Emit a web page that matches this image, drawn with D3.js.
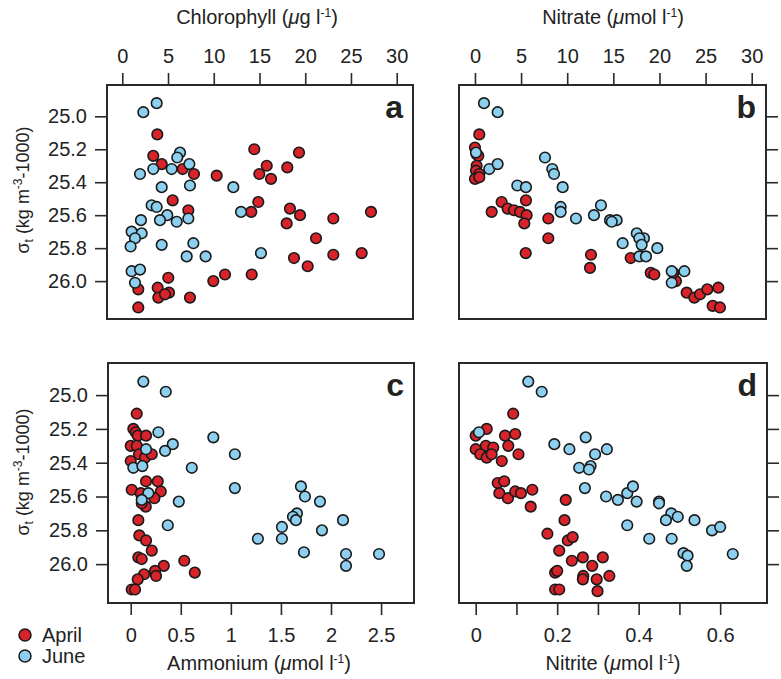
<!DOCTYPE html>
<html>
<head>
<meta charset="utf-8">
<script src="https://cdn.jsdelivr.net/npm/d3@7"></script>
<style>
  html, body { margin: 0; padding: 0; background: #fff; }
  svg { display: block; }
  text { font-family: "Liberation Sans", Arial, Helvetica, sans-serif; fill: #222; }
</style>
</head>
<body>
<svg id="chart" width="781" height="679"></svg>
<script>
// ---------------- DATA (value, sigma-t) ----------------
const months = ["April", "June"];
const sigmaTicks = [25.0, 25.2, 25.4, 25.6, 25.8, 26.0];
const chlTicks = [0, 5, 10, 15, 20, 25, 30];
const nitrateTicks = [0, 5, 10, 15, 20, 25, 30];
const ammoniumTicks = [0, 0.5, 1, 1.5, 2, 2.5];
const nitriteTicks = [0, 0.1, 0.2, 0.3, 0.4, 0.5, 0.6];
const nitriteLabels = [0, 0.2, 0.4, 0.6];

const chlApril = [[3.83,25.11],[3.39,25.24],[4.31,25.29],[6.60,25.32],[7.84,25.35],[10.32,25.36],[14.43,25.20],[19.32,25.22],[15.79,25.30],[14.98,25.35],[16.26,25.38],[18.04,25.31],[5.51,25.51],[14.87,25.52],[7.22,25.57],[14.10,25.58],[18.33,25.56],[19.43,25.60],[17.97,25.65],[23.07,25.62],[27.19,25.58],[21.18,25.74],[18.77,25.86],[20.27,25.91],[23.07,25.84],[26.17,25.83],[14.15,25.96],[11.23,25.96],[9.95,26.00],[5.03,25.98],[1.75,26.05],[3.87,26.04],[3.94,26.10],[5.11,26.07],[4.67,26.08],[7.40,26.10],[1.75,26.16]];
const chlJune = [[3.76,24.92],[2.30,24.975],[6.31,25.22],[6.01,25.25],[7.33,25.29],[3.39,25.32],[5.40,25.32],[1.94,25.35],[4.31,25.43],[7.40,25.42],[12.14,25.43],[3.21,25.54],[3.76,25.55],[4.92,25.60],[4.12,25.63],[5.95,25.64],[7.22,25.62],[12.98,25.58],[2.04,25.63],[1.02,25.70],[2.12,25.71],[1.39,25.74],[0.91,25.79],[4.31,25.78],[7.77,25.77],[7.04,25.85],[9.11,25.85],[15.16,25.83],[1.02,25.94],[1.94,25.93],[1.39,26.01]];

const nitrateApril = [[0.47,25.11],[0.0,25.19],[0.18,25.23],[0.36,25.24],[0.18,25.30],[0.11,25.33],[0.47,25.35],[0.0,25.38],[0.47,25.37],[2.89,25.52],[1.81,25.58],[3.54,25.56],[4.23,25.57],[4.88,25.58],[5.53,25.51],[5.60,25.60],[5.35,25.65],[5.50,25.83],[7.95,25.62],[7.95,25.74],[12.58,25.84],[12.47,25.92],[16.88,25.86],[19.05,25.95],[19.44,25.96],[21.79,26.00],[22.95,26.07],[23.78,26.10],[24.40,26.08],[25.19,26.05],[26.38,26.04],[25.77,26.15],[26.56,26.16],[21.50,25.95]];
const nitrateJune = [[0.98,24.92],[2.46,24.975],[0.11,25.22],[1.55,25.32],[2.46,25.29],[7.59,25.25],[8.38,25.32],[8.57,25.35],[9.51,25.43],[4.59,25.42],[5.53,25.43],[9.29,25.55],[9.29,25.58],[10.95,25.62],[12.90,25.60],[13.66,25.54],[14.64,25.63],[15.36,25.63],[14.83,25.64],[17.54,25.71],[18.32,25.74],[17.82,25.74],[18.07,25.78],[16.01,25.77],[19.77,25.80],[17.82,25.85],[18.54,25.85],[21.33,25.94],[22.70,25.94],[21.33,26.01]];

const ammoniumApril = [[0.06,25.11],[0.026,25.20],[0.05,25.22],[0.07,25.24],[0.153,25.24],[0.0,25.30],[0.06,25.30],[0.083,25.35],[0.143,25.37],[0.21,25.35],[0.0,25.39],[0.01,25.56],[0.153,25.51],[0.27,25.51],[0.30,25.57],[0.10,25.58],[0.236,25.61],[0.15,25.66],[0.11,25.64],[0.076,25.74],[0.086,25.83],[0.153,25.86],[0.21,25.92],[0.076,25.96],[0.11,25.97],[0.535,25.98],[0.33,26.01],[0.243,26.04],[0.253,26.07],[0.64,26.05],[0.133,26.06],[0.07,26.09],[0.01,26.15],[0.043,26.15]];
const ammoniumJune = [[0.126,24.92],[0.35,24.98],[0.276,25.22],[0.42,25.29],[0.343,25.33],[0.153,25.32],[0.825,25.25],[1.04,25.35],[0.61,25.43],[0.026,25.43],[0.116,25.42],[1.04,25.55],[0.176,25.58],[0.11,25.62],[0.48,25.63],[0.37,25.77],[1.70,25.54],[1.74,25.60],[1.89,25.63],[1.66,25.70],[1.62,25.72],[1.65,25.74],[1.51,25.78],[1.91,25.80],[2.12,25.74],[1.27,25.85],[1.51,25.85],[1.73,25.93],[2.15,25.94],[2.48,25.94],[2.15,26.01]];

const nitriteApril = [[0.092,25.11],[0.027,25.20],[0.0,25.24],[0.072,25.24],[0.097,25.23],[0.025,25.30],[0.043,25.31],[0.08,25.30],[0.0,25.32],[0.011,25.35],[0.027,25.37],[0.039,25.35],[0.105,25.35],[0.064,25.39],[0.054,25.52],[0.07,25.51],[0.058,25.58],[0.079,25.61],[0.097,25.57],[0.111,25.58],[0.139,25.56],[0.135,25.66],[0.221,25.62],[0.218,25.74],[0.176,25.82],[0.226,25.86],[0.238,25.84],[0.205,25.92],[0.236,25.98],[0.263,25.96],[0.312,25.96],[0.286,26.01],[0.195,26.05],[0.20,26.04],[0.264,26.07],[0.263,26.09],[0.297,26.09],[0.328,26.07],[0.195,26.15],[0.205,26.15],[0.299,26.16]];
const nitriteJune = [[0.129,24.92],[0.162,24.98],[0.008,25.22],[0.27,25.25],[0.193,25.29],[0.23,25.32],[0.322,25.32],[0.293,25.35],[0.254,25.43],[0.282,25.42],[0.278,25.44],[0.268,25.55],[0.32,25.60],[0.349,25.62],[0.372,25.58],[0.386,25.54],[0.395,25.63],[0.45,25.63],[0.45,25.64],[0.372,25.77],[0.48,25.70],[0.496,25.72],[0.467,25.74],[0.537,25.74],[0.426,25.85],[0.481,25.85],[0.58,25.80],[0.60,25.78],[0.51,25.935],[0.52,25.95],[0.631,25.94],[0.518,26.01]];

// ---------------- STYLE / LAYOUT ----------------
const colors = { April: "#d8232a", June: "#8ccfee" };
const ink = "#2a2a2a";
const fontSize = 20;
const svg = d3.select("#chart");

const panels = [
  { id: "a", x0: 107, x1: 413, y0: 85, y1: 319, xdom: [-1.67, 31.78], ticks: chlTicks, labels: chlTicks, xside: "top", yside: "left", data: [chlApril, chlJune] },
  { id: "b", x0: 459, x1: 766, y0: 85, y1: 319, xdom: [-1.73, 31.55], ticks: nitrateTicks, labels: nitrateTicks, xside: "top", yside: "right", data: [nitrateApril, nitrateJune] },
  { id: "c", x0: 108, x1: 414, y0: 363, y1: 603, xdom: [-0.227, 2.829], ticks: ammoniumTicks, labels: ammoniumTicks, xside: "bottom", yside: "left", data: [ammoniumApril, ammoniumJune] },
  { id: "d", x0: 459, x1: 767, y0: 363, y1: 603, xdom: [-0.041, 0.715], ticks: nitriteTicks, labels: nitriteLabels, xside: "bottom", yside: "right", data: [nitriteApril, nitriteJune] }
];
const ydom = [24.81, 26.23];
const fmt = d3.format("~g");

panels.forEach(p => {
  const x = d3.scaleLinear().domain(p.xdom).range([p.x0, p.x1]);
  const y = d3.scaleLinear().domain(ydom).range([p.y0, p.y1]);

  // x axis
  const xa = (p.xside === "top" ? d3.axisTop(x) : d3.axisBottom(x))
    .tickValues(p.ticks).tickSize(12)
    .tickPadding(p.xside === "top" ? 10 : 13)
    .tickFormat(d => p.labels.some(l => Math.abs(l - d) < 1e-9) ? fmt(d) : "");
  const gx = svg.append("g")
    .attr("transform", `translate(0,${p.xside === "top" ? p.y0 : p.y1})`)
    .call(xa);
  gx.select(".domain").remove();
  gx.selectAll("line").attr("stroke", ink).attr("stroke-width", 1.6);
  gx.selectAll("text").attr("font-size", fontSize).style("font-family", "Liberation Sans, Arial, sans-serif").attr("fill", "#222");

  // y axis
  const ya = (p.yside === "left" ? d3.axisLeft(y) : d3.axisRight(y))
    .tickValues(sigmaTicks).tickSize(12).tickPadding(8)
    .tickFormat(p.yside === "left" ? d3.format(".1f") : () => "");
  const gy = svg.append("g")
    .attr("transform", `translate(${p.yside === "left" ? p.x0 : p.x1},0)`)
    .call(ya);
  gy.select(".domain").remove();
  gy.selectAll("line").attr("stroke", ink).attr("stroke-width", 1.6);
  gy.selectAll("text").attr("font-size", fontSize).style("font-family", "Liberation Sans, Arial, sans-serif").attr("fill", "#222");

  // points: April first, June on top
  p.data.forEach((series, i) => {
    svg.append("g").selectAll("circle").data(series).join("circle")
      .attr("cx", d => x(d[0]))
      .attr("cy", d => y(d[1]))
      .attr("r", 5.3)
      .attr("fill", colors[months[i]])
      .attr("stroke", "#1a1a1a")
      .attr("stroke-width", 1.6);
  });

  // frame
  svg.append("rect")
    .attr("x", p.x0).attr("y", p.y0)
    .attr("width", p.x1 - p.x0).attr("height", p.y1 - p.y0)
    .attr("fill", "none").attr("stroke", ink).attr("stroke-width", 2);

  // panel letter
  svg.append("text")
    .attr("x", p.x1 - 10).attr("y", p.y0 + 33)
    .attr("text-anchor", "end")
    .attr("font-size", 32).attr("font-weight", "bold")
    .attr("fill", "#111")
    .text(p.id);
});

// ---------------- AXIS TITLES ----------------
function unitTitle(x, yPos, name, unit) {
  const t = svg.append("text")
    .attr("x", x).attr("y", yPos)
    .attr("text-anchor", "middle")
    .attr("font-size", fontSize);
  t.append("tspan").text(name + " (");
  t.append("tspan").attr("font-style", "italic").text("\u03bc");
  t.append("tspan").text(unit + " l");
  t.append("tspan").attr("font-size", 12).attr("dy", -7).text("-1");
  t.append("tspan").attr("dy", 7).text(")");
}
unitTitle(257, 24, "Chlorophyll", "g");
unitTitle(613, 24, "Nitrate", "mol");
unitTitle(259, 670, "Ammonium", "mol");
unitTitle(613, 670, "Nitrite", "mol");

function sigmaTitle(cy) {
  const t = svg.append("text")
    .attr("transform", `translate(29,${cy}) rotate(-90)`)
    .attr("text-anchor", "middle")
    .attr("font-size", 18);
  t.append("tspan").text("\u03c3");
  t.append("tspan").attr("font-size", 12).attr("dy", 4).text("t");
  t.append("tspan").attr("dy", -4).text(" (kg m");
  t.append("tspan").attr("font-size", 12).attr("dy", -7).text("-3");
  t.append("tspan").attr("dy", 7).text("-1000)");
}
sigmaTitle(190);
sigmaTitle(472);

// ---------------- LEGEND ----------------
const legend = svg.append("g");
months.forEach((m, i) => {
  const cy = 635 + i * 21;
  legend.append("circle").attr("cx", 25).attr("cy", cy).attr("r", 6)
    .attr("fill", colors[m]).attr("stroke", "#1a1a1a").attr("stroke-width", 1.5);
  legend.append("text").attr("x", 42).attr("y", cy + 7)
    .attr("font-size", fontSize).text(m);
});
</script>
</body>
</html>
